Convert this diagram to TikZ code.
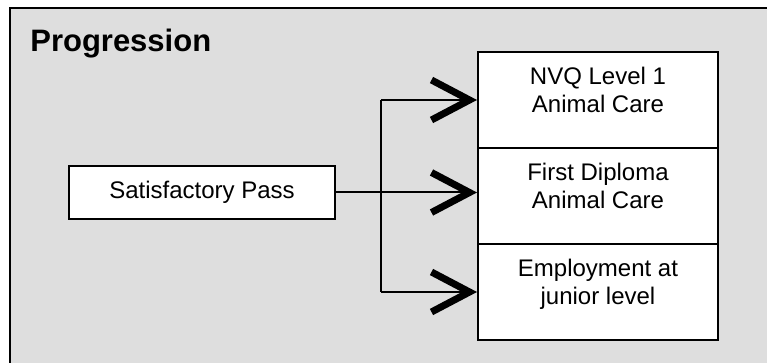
\documentclass[tikz,border=0pt]{standalone}
\usepackage{fontspec}
\setmainfont{Liberation Sans}
\usetikzlibrary{arrows.meta,positioning}

\newcommand{\boxtext}[1]{\parbox[c][84pt][t]{228pt}{\centering\rule{0pt}{27pt}#1}}

\begin{document}
\begin{tikzpicture}[x=1pt,y=1pt,line width=2pt,
	every node/.style={font=\fontsize{24}{27.6}\selectfont},
	progbox/.style={draw,fill=white,inner sep=6pt,minimum width=240pt,minimum height=96pt},
	conn/.style={line width=2pt},
	chevron/.style={conn,-{Straight Barb[length=38pt,width=40pt,line width=7pt]}}]
		\useasboundingbox (0,0) rectangle (767,363);
		\fill[black!13] (10,0) rectangle (767,355);
		\draw[line width=2.5pt] (10,0) -- (10,355) -- (767,355);
		\node[anchor=base west,font=\fontsize{31}{36}\selectfont\bfseries] (title) at (26,311) {Progression};
		\node[draw,fill=white,minimum width=266pt,minimum height=53pt] (pass) at (202,170.5) {Satisfactory Pass};
		\node[progbox,anchor=north west] (nvq) at (477,312) {\boxtext{NVQ Level 1\\Animal Care}};
		\node[progbox,below=-2pt of nvq] (diploma) {\boxtext{First Diploma\\Animal Care}};
		\node[progbox,below=-2pt of diploma] (job) {\boxtext{Employment at\\junior level}};
		\coordinate[right=45pt of pass.east] (fork);
		\draw[chevron] (pass.east) -- (pass.east -| diploma.west);
		\draw[conn] (fork |- nvq.west) -- (fork |- job.west);
		\draw[chevron] (fork |- nvq.west) -- (nvq.west);
		\draw[chevron] (fork |- job.west) -- (job.west);
\end{tikzpicture}
\end{document}
